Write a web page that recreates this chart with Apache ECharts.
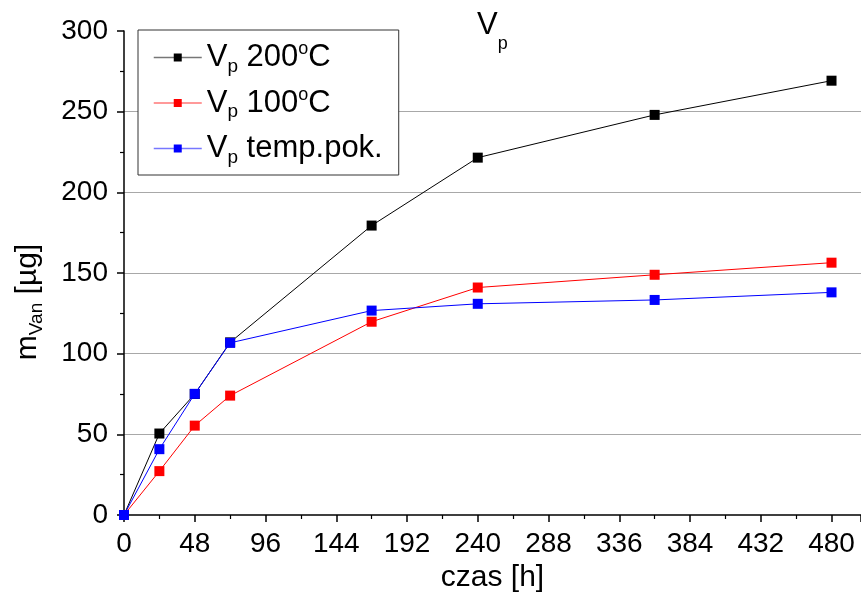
<!DOCTYPE html>
<html>
<head>
<meta charset="utf-8">
<script src="https://cdn.jsdelivr.net/npm/echarts@6/dist/echarts.min.js"></script>
<style>
html,body{margin:0;padding:0;background:#fff;}
#chart{width:861px;height:593px;}
</style>
</head>
<body>
<div id="chart"></div>
<script>
const hours = [0, 24, 48, 72, 168, 240, 360, 480];
const v200 = [0, 50.5, 75, 107, 179.4, 221.5, 248, 269.2];
const v100 = [0, 27.2, 55.4, 74, 119.8, 141, 148.9, 156.4];
const vTemp = [0, 40.8, 75.1, 106.7, 126.7, 130.9, 133.3, 138];
const seriesNames = ['Vp 200C', 'Vp 100C', 'Vp temp.pok.'];
const legendLabels = {
  'Vp 200C': '{a|V}{s|p}{a| 200}{o|o}{a|C}',
  'Vp 100C': '{a|V}{s|p}{a| 100}{o|o}{a|C}',
  'Vp temp.pok.': '{a|V}{s|p}{a| temp.pok.}'
};
const colors = ['#000000', '#ff0000', '#0000ff'];
const legendLineColors = ['#777777', '#ff7777', '#7777ff'];
const xTicks = [0, 48, 96, 144, 192, 240, 288, 336, 384, 432, 480];

const FONT = '"Liberation Sans", Arial, sans-serif';
const chart = echarts.init(document.getElementById('chart'), null, {renderer: 'canvas'});

function pairs(vals) { return hours.map((h, i) => [h, vals[i]]); }
const allVals = [v200, v100, vTemp];

const option = {
  backgroundColor: '#fff',
  animation: false,
  textStyle: {fontFamily: FONT, color: '#000'},
  title: {
    text: '{a|V}{s|p}',
    left: 477, top: 7, padding: 0,
    textStyle: {
      fontWeight: 'normal',
      rich: {
        a: {fontFamily: FONT, fontSize: 31, fontWeight: 'normal', color: '#000', lineHeight: 36},
        s: {fontFamily: FONT, fontSize: 18, fontWeight: 'normal', color: '#000', lineHeight: 18, padding: [38, 0, 0, 0]}
      }
    }
  },
  grid: {left: 124, right: 0, top: 31, bottom: 78, containLabel: false, outerBoundsMode: 'none'},
  legend: {
    orient: 'vertical',
    left: 138, top: 30,
    padding: [9, 16, 8, 15],
    itemGap: 8.5,
    itemWidth: 48, itemHeight: 10,
    borderColor: '#333', borderWidth: 1, borderRadius: 0,
    backgroundColor: '#fff',
    data: seriesNames.map((n, i) => ({name: n, lineStyle: {color: legendLineColors[i], width: 1.5}})),
    formatter: name => legendLabels[name],
    textStyle: {
      rich: {
        a: {fontFamily: FONT, fontSize: 31, color: '#000', lineHeight: 36},
        s: {fontFamily: FONT, fontSize: 19, color: '#000', lineHeight: 19, padding: [18, 0, 0, 0]},
        o: {fontFamily: FONT, fontSize: 18, color: '#000', lineHeight: 18, padding: [0, 0, 16, 0]}
      }
    }
  },
  xAxis: {
    type: 'value', min: 0, max: 500, interval: 48,
    name: 'czas [h]', nameLocation: 'middle', nameGap: 48,
    nameTextStyle: {fontFamily: FONT, fontSize: 30, color: '#000', lineHeight: 30},
    axisLine: {show: true, onZero: false, lineStyle: {color: '#000', width: 1.5}},
    axisTick: {show: true, inside: false, length: 7, lineStyle: {color: '#000', width: 1.5}},
    minorTick: {show: true, splitNumber: 2, length: 4, lineStyle: {color: '#000', width: 1.2}},
    axisLabel: {
      fontFamily: FONT, fontSize: 28, color: '#000', margin: 15, lineHeight: 28,
      showMaxLabel: false,
      formatter: v => (xTicks.indexOf(v) >= 0 ? String(v) : '')
    },
    splitLine: {show: false}
  },
  yAxis: {
    type: 'value', min: 0, max: 300, interval: 50,
    name: '{a|m}{s|Van}{a| [µg]}', nameLocation: 'middle', nameGap: 78, nameRotate: 90,
    nameTextStyle: {
      padding: [0, 58, 0, 0],
      rich: {
        a: {fontFamily: FONT, fontSize: 30, color: '#000', lineHeight: 36},
        s: {fontFamily: FONT, fontSize: 19, color: '#000', lineHeight: 19, padding: [17, 0, 0, 0]}
      }
    },
    axisLine: {show: true, onZero: false, lineStyle: {color: '#000', width: 1.5}},
    axisTick: {show: true, inside: false, length: 7, lineStyle: {color: '#000', width: 1.5}},
    minorTick: {show: true, splitNumber: 2, length: 4, lineStyle: {color: '#000', width: 1.2}},
    axisLabel: {fontFamily: FONT, fontSize: 28, color: '#000', margin: 16},
    splitLine: {show: true, showMinLine: false, showMaxLine: false, lineStyle: {color: '#a8a8a8', width: 1.2}}
  },
  series: seriesNames.map((n, i) => ({
    name: n,
    type: 'line',
    data: pairs(allVals[i]),
    symbol: 'rect',
    symbolSize: 10,
    showAllSymbol: true,
    clip: false,
    lineStyle: {color: colors[i], width: 1},
    itemStyle: {color: colors[i]},
    z: 2 + i
  }))
};
chart.setOption(option);
</script>
</body>
</html>
